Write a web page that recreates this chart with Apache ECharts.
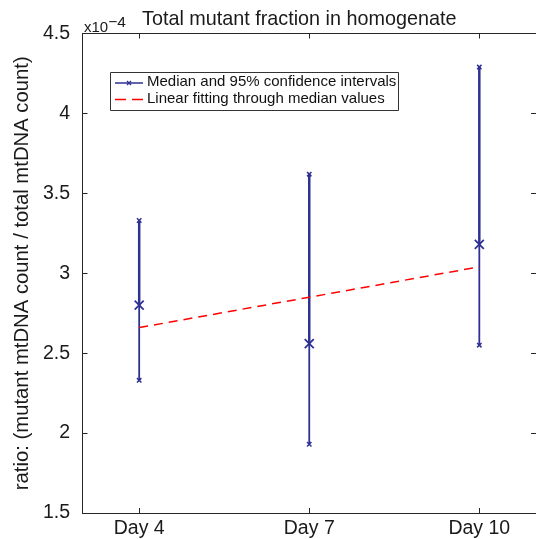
<!DOCTYPE html>
<html lang="en">
<head>
    <meta charset="UTF-8">
    <title>Total mutant fraction in homogenate</title>
    <script src="https://cdn.jsdelivr.net/npm/echarts@6/dist/echarts.min.js"></script>
    <style>
        html, body { margin: 0; padding: 0; background: #fff; }
        #container { width: 536px; height: 539px; }
    </style>
</head>
<body>
<div id="container"></div>
<script>
    // values are in units of 1e-4
    var days = [4, 7, 10];
    var dayLabels = ['Day 4', 'Day 7', 'Day 10'];
    var medians = [2.80, 2.56, 3.18];
    var lower = [2.33, 1.93, 2.55];
    var upper = [3.33, 3.62, 4.29];
    var fitValues = [2.66, 2.85, 3.04];
    var yTicks = [1.5, 2, 2.5, 3, 3.5, 4, 4.5];

    var blue = '#2e3192';
    var red = '#ff0000';
    var axisColor = '#262626';
    var font = 'Liberation Sans, Arial, sans-serif';

    var barData = [];
    for (var i = 0; i < days.length; i++) {
        barData.push([days[i], lower[i], medians[i], upper[i]]);
    }
    var fitData = [];
    for (var j = 0; j < days.length; j++) {
        fitData.push([days[j], fitValues[j]]);
    }

    function cross(cx, cy, r, w) {
        return [
            {type: 'line', shape: {x1: cx - r, y1: cy - r, x2: cx + r, y2: cy + r}, style: {stroke: blue, lineWidth: w}},
            {type: 'line', shape: {x1: cx - r, y1: cy + r, x2: cx + r, y2: cy - r}, style: {stroke: blue, lineWidth: w}}
        ];
    }

    function renderErrorBar(params, api) {
        var x = api.value(0);
        var lo = api.coord([x, api.value(1)]);
        var md = api.coord([x, api.value(2)]);
        var hi = api.coord([x, api.value(3)]);
        var kids = [
            {type: 'line', shape: {x1: hi[0], y1: hi[1], x2: md[0], y2: md[1]}, style: {stroke: blue, lineWidth: 2.5}},
            {type: 'line', shape: {x1: md[0], y1: md[1], x2: lo[0], y2: lo[1]}, style: {stroke: blue, lineWidth: 1.8}}
        ];
        kids = kids.concat(cross(hi[0], hi[1], 2.2, 1.5));
        kids = kids.concat(cross(lo[0], lo[1], 2.2, 1.5));
        kids = kids.concat(cross(md[0], md[1], 4.5, 1.8));
        return {type: 'group', children: kids};
    }

    var chart = echarts.init(document.getElementById('container'), null, {renderer: 'canvas'});

    var option = {
        animation: false,
        backgroundColor: '#fff',
        grid: {left: 82.5, right: -2.5, top: 33.5, bottom: 25.5},
        xAxis: [{
            type: 'value',
            min: 3,
            max: 11,
            position: 'bottom',
            axisLine: {show: true, lineStyle: {color: axisColor, width: 1}},
            axisTick: {show: true, inside: true, length: 5, customValues: days, lineStyle: {color: axisColor}},
            axisLabel: {
                customValues: days,
                margin: 6,
                fontSize: 19.5,
                fontFamily: font,
                color: '#1a1a1a',
                formatter: function (v) {
                    var k = days.indexOf(v);
                    return k >= 0 ? dayLabels[k] : '';
                }
            },
            splitLine: {show: false}
        }, {
            type: 'value',
            min: 3,
            max: 11,
            position: 'top',
            axisLine: {show: true, lineStyle: {color: axisColor, width: 1}},
            axisTick: {show: true, inside: true, length: 5, customValues: days, lineStyle: {color: axisColor}},
            axisLabel: {show: false},
            splitLine: {show: false}
        }],
        yAxis: [{
            type: 'value',
            min: 1.5,
            max: 4.5,
            interval: 0.5,
            position: 'left',
            name: 'ratio: (mutant mtDNA count / total mtDNA count)',
            nameLocation: 'middle',
            nameGap: 49,
            nameTextStyle: {fontSize: 20.3, fontFamily: font, color: '#1a1a1a'},
            axisLine: {show: true, lineStyle: {color: axisColor, width: 1}},
            axisTick: {show: true, inside: true, length: 5, lineStyle: {color: axisColor}},
            axisLabel: {
                margin: 12.5,
                fontSize: 19.5,
                fontFamily: font,
                color: '#1a1a1a',
                formatter: function (v) {
                    return yTicks.indexOf(v) >= 0 ? String(v) : '';
                }
            },
            splitLine: {show: false}
        }, {
            type: 'value',
            min: 1.5,
            max: 4.5,
            interval: 0.5,
            position: 'right',
            axisLine: {show: false},
            axisTick: {show: true, inside: true, length: 5, lineStyle: {color: axisColor}},
            axisLabel: {show: false},
            splitLine: {show: false}
        }],
        graphic: [
            {
                type: 'text', left: 142, top: 10,
                style: {text: 'Total mutant fraction in homogenate', font: '19.8px ' + font, fill: '#1a1a1a'}
            },
            {
                type: 'text', left: 84, top: 15,
                style: {
                    text: '{a|x10}{b|\u22124}',
                    rich: {
                        a: {font: '15px ' + font, fill: '#1a1a1a', verticalAlign: 'bottom', lineHeight: 20},
                        b: {font: '15.5px ' + font, fill: '#1a1a1a', verticalAlign: 'top', lineHeight: 20, padding: [0, 0, 6, 0]}
                    }
                }
            },
            // legend box
            {
                type: 'rect', shape: {x: 110.5, y: 72.5, width: 288, height: 38},
                style: {fill: '#fff', stroke: '#333', lineWidth: 1}, z: 10
            },
            {
                type: 'line', shape: {x1: 115, y1: 83, x2: 143, y2: 83},
                style: {stroke: blue, lineWidth: 1.5}, z: 11
            },
            {
                type: 'group', z: 11,
                children: cross(129, 83, 2, 1.3).map(function (c) { c.z = 11; return c; })
            },
            {
                type: 'text', left: 147, top: 74, z: 11,
                style: {text: 'Median and 95% confidence intervals', font: '15px ' + font, fill: '#111'}
            },
            {
                type: 'line', shape: {x1: 115, y1: 99.5, x2: 143, y2: 99.5},
                style: {stroke: red, lineWidth: 1.5, lineDash: [11, 6]}, z: 11
            },
            {
                type: 'text', left: 147, top: 91, z: 11,
                style: {text: 'Linear fitting through median values', font: '15px ' + font, fill: '#111'}
            }
        ],
        series: [
            {
                name: 'Median and 95% confidence intervals',
                type: 'custom',
                xAxisIndex: 0,
                yAxisIndex: 0,
                renderItem: renderErrorBar,
                encode: {x: 0, y: [1, 2, 3]},
                data: barData,
                z: 3
            },
            {
                name: 'Linear fitting through median values',
                type: 'line',
                xAxisIndex: 0,
                yAxisIndex: 0,
                data: fitData,
                symbol: 'none',
                lineStyle: {color: red, width: 1.5, type: [9, 6]},
                z: 4
            }
        ]
    };
    chart.setOption(option);
</script>
</body>
</html>
